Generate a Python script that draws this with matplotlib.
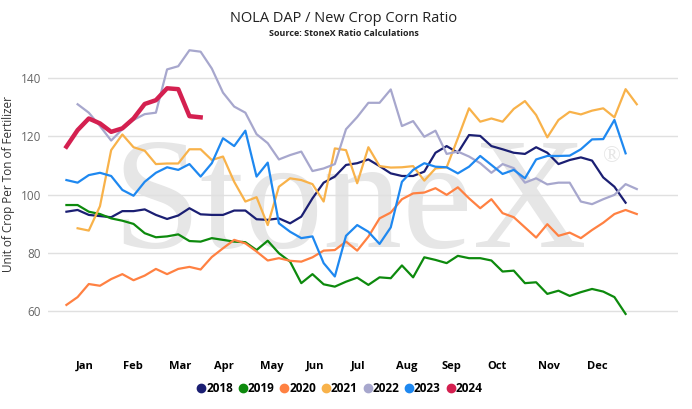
import numpy as np
import matplotlib.pyplot as plt
from matplotlib.lines import Line2D

plt.rcParams['font.family'] = ['Open Sans', 'DejaVu Sans']

# weekly ratio values (week index 0..51), nan = no data
r2018 = [94.1, 94.7, 93.0, 92.6, 92.2, 94.3, 94.3, 94.9, 93.0, 91.6, 92.8, 95.3, 93.2,
         93.0, 93.0, 94.5, 94.5, 91.5, 91.3, 91.8, 90.1, 92.4, 98.7, 104.1, 106.2, 110.2,
         110.8, 112.1, 109.8, 107.3, 106.4, 106.4, 107.9, 114.4, 116.7, 114.4, 120.5, 120.2,
         116.7, 115.6, 114.4, 114.0, 116.3, 114.4, 110.5, 111.9, 112.8, 111.7, 105.9, 102.7,
         97.2, np.nan]
r2019 = [96.4, 96.4, 94.1, 93.3, 91.8, 91.0, 89.9, 86.7, 85.3, 85.6, 86.3, 84.0, 83.8,
         85.0, 84.4, 83.8, 83.6, 80.9, 84.1, 79.8, 76.9, 69.5, 72.6, 69.1, 68.3, 70.0,
         71.4, 68.9, 71.5, 71.2, 75.6, 71.5, 78.4, 77.5, 76.4, 78.9, 78.1, 78.1, 77.3,
         73.5, 73.8, 69.5, 69.8, 65.8, 66.9, 65.1, 66.4, 67.5, 66.6, 64.7, 58.9, np.nan]
r2020 = [62.0, 64.7, 69.2, 68.6, 70.9, 72.6, 70.5, 72.1, 74.4, 72.6, 74.4, 75.1, 74.2,
         78.5, 81.5, 84.4, 83.2, 80.4, 77.3, 78.1, 77.2, 76.9, 78.4, 80.7, 80.9, 83.8,
         80.7, 85.5, 91.8, 93.8, 98.4, 100.4, 100.7, 102.2, 99.9, 102.5, 98.7, 95.3, 98.4,
         93.6, 92.2, 88.7, 85.2, 89.8, 85.8, 86.9, 85.0, 87.8, 90.3, 93.3, 94.7, 93.3]
r2021 = [np.nan, 88.4, 87.6, 96.0, 115.3, 120.7, 116.3, 115.1, 110.5, 110.7, 110.7, 115.6,
         115.6, 111.9, 113.1, 104.4, 97.6, 99.1, 89.5, 102.7, 105.6, 105.0, 103.6, 97.6,
         115.9, 115.3, 103.9, 116.3, 109.8, 109.3, 109.4, 109.8, 104.8, 109.0, 109.4, 119.4,
         129.7, 125.1, 126.2, 125.1, 129.5, 132.2, 127.4, 119.7, 125.7, 128.5, 127.6, 128.9,
         129.7, 126.6, 136.3, 131.1]
r2022 = [np.nan, 131.1, 128.2, 123.6, 118.6, 122.5, 125.7, 127.7, 128.2, 143.1, 144.2, 149.7,
         149.2, 143.4, 135.1, 130.3, 128.2, 120.8, 117.7, 112.1, 113.6, 114.8, 108.1, 109.0,
         110.5, 122.5, 126.7, 131.6, 131.6, 136.2, 123.6, 125.3, 119.9, 122.0, 114.0, 114.8,
         113.1, 110.8, 107.5, 110.5, 109.1, 104.1, 105.6, 103.5, 104.1, 104.1, 97.6, 96.7,
         98.4, 99.9, 103.6, 101.9]
r2023 = [105.0, 104.1, 106.7, 107.5, 106.4, 101.6, 99.6, 104.4, 107.5, 109.4, 108.5, 110.5,
         106.2, 110.8, 119.4, 116.7, 122.0, 106.2, 111.0, 90.1, 87.2, 85.0, 85.6, 76.4, 71.8,
         85.8, 89.5, 87.2, 83.0, 88.7, 104.4, 108.5, 110.8, 109.6, 109.4, 107.3, 109.6,
         113.3, 110.2, 107.1, 108.5, 105.6, 112.1, 113.3, 113.3, 113.4, 115.6, 119.0, 119.1,
         125.7, 114.2, np.nan]
r2024 = [116.5, 122.2, 126.2, 124.5, 121.6, 122.8, 126.2, 131.2, 132.5, 136.6, 136.3,
         127.0, 126.6]

years = ['2018', '2019', '2020', '2021', '2022', '2023', '2024']
series = [r2018, r2019, r2020, r2021, r2022, r2023, r2024]
colors = ['#1b1f73', '#0d8a0d', '#ff8142', '#f8b24a', '#a7a7cd', '#1e88f0', '#d42050']

months = ['Jan', 'Feb', 'Mar', 'Apr', 'May', 'Jun', 'Jul', 'Aug', 'Sep', 'Oct', 'Nov', 'Dec']
month_pos = [1.64, 5.93, 10.13, 14.07, 18.36, 22.2, 26.06, 30.44, 34.47, 38.49, 43.14, 47.43]

fig = plt.figure(figsize=(6.92, 4.09), dpi=100)
ax = fig.add_axes([0.069, 0.2225, 0.911, 0.6575])
ax.patch.set_alpha(0)

# watermark behind the lines
ax.text(0.506, 0.396, 'StoneX', transform=fig.transFigure, ha='center', va='baseline',
        fontsize=114, family='Liberation Serif', color='#e6e6e6', zorder=0.3)
ax.text(0.884, 0.618, '\u00ae', transform=fig.transFigure, ha='center', va='center',
        fontsize=17, family='Liberation Serif', color='#e6e6e6', zorder=0.3)

for yr, vals, c in zip(years, series, colors):
    x = np.arange(len(vals))
    lw = 3.2 if yr == '2024' else 1.6
    ax.plot(x, vals, color=c, lw=lw, solid_joinstyle='round', zorder=3)

ax.set_xlim(-1.67, 54.7)
ax.set_ylim(57.5, 150.1)
ax.set_yticks([60, 80, 100, 120, 140])
ax.grid(axis='y', color='#e0e0e0', lw=1)
ax.set_axisbelow(True)
for s in ax.spines.values():
    s.set_visible(False)

ax.set_xticks(month_pos)
ax.set_xticklabels(months, fontsize=8, fontweight='bold', color='black')
ax.tick_params(axis='x', length=0, pad=31)
ax.tick_params(axis='y', length=0, labelsize=8.5, labelcolor='#666666', pad=5)
ax.set_ylabel('Unit of Crop Per Ton of Fertilizer', fontsize=8.5, color='#333333', labelpad=4)

fig.text(0.497, 0.955, 'NOLA DAP / New Crop Corn Ratio', ha='center', va='center',
         fontsize=10.5, color='#222222')
fig.text(0.497, 0.918, 'Source: StoneX Ratio Calculations', ha='center', va='center',
         fontsize=6.5, fontweight='bold', color='#222222')

handles = [Line2D([], [], ls='none', marker='o', markersize=6, color=c) for c in colors]
fig.legend(handles, years, loc='center', bbox_to_anchor=(0.489, 0.051), ncol=7,
           frameon=False, handletextpad=-0.2, columnspacing=0.25, handlelength=1.2,
           prop={'size': 8.5, 'weight': 'bold'})

fig.savefig('out.png', dpi=100)
